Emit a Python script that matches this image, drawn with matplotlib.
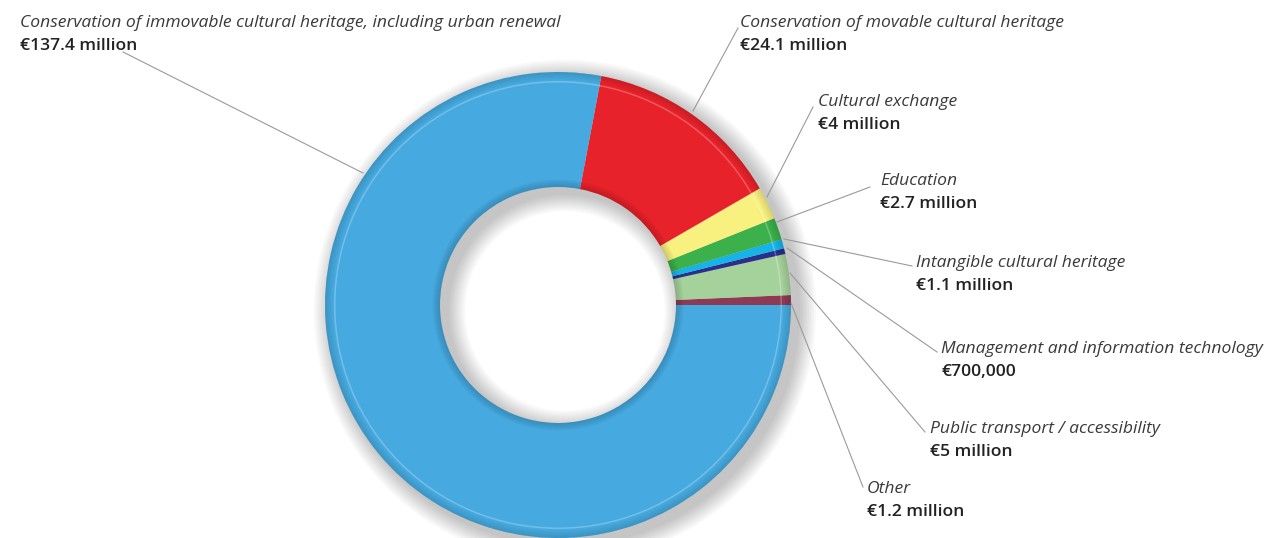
import matplotlib.pyplot as plt
from matplotlib.patches import Wedge

# Budget by field (million euro), drawn counter-clockwise from 3 o'clock
categories = ['Other', 'Public transport / accessibility',
              'Management and information technology',
              'Intangible cultural heritage', 'Education', 'Cultural exchange',
              'Conservation of movable cultural heritage',
              'Conservation of immovable cultural heritage, including urban renewal']
values = [1.2, 5.0, 0.7, 1.1, 2.7, 4.0, 24.1, 137.4]
value_labels = ['€1.2 million', '€5 million', '€700,000', '€1.1 million',
                '€2.7 million', '€4 million', '€24.1 million', '€137.4 million']
colors = ['#8e3a55', '#a5d19b', '#2b2f8c', '#16b3e8', '#3bb04b', '#f8f07f',
          '#e8222a', '#46a9df']

# label anchor (text left/centre of first line) and leader line end points, in pixels
label_pos = [(867, 489), (930, 429), (941, 349), (916, 263), (880, 181),
             (818, 102), (740, 23), (20, 23)]
line_start = [(863, 487), (925, 432), (937, 352), (912, 266), (870, 187),
              (813, 107), (738, 28), (123, 52)]
line_end = [(791, 303), (790, 273), (787, 248), (784, 239), (777, 222),
            (767, 197), (693, 111), (363, 173)]

cx, cy = 558, 305
r_out, r_in = 233, 118

fig = plt.figure(figsize=(12.78, 5.38), dpi=100)
ax = fig.add_axes([0, 0, 1, 1])

# soft drop shadow behind the ring
for i in range(10):
    ax.add_patch(Wedge((cx + 7, cy + 6), r_out + 2 + i * 1.8, 0, 360,
                       width=(r_out - r_in) + 4 + i * 3.6,
                       facecolor='black', edgecolor='none', alpha=0.025, zorder=1))

wedges, _ = ax.pie(values, colors=colors, radius=r_out, center=(cx, cy),
                   startangle=0, counterclock=False,
                   wedgeprops=dict(width=r_out - r_in, edgecolor='none', zorder=2))

# bevel shading on the rim (graded)
for i in range(5):
    ax.add_patch(Wedge((cx, cy), r_out, 0, 360, width=1.5 + i * 1.5,
                       facecolor='black', edgecolor='none', alpha=0.025, zorder=3))
    ax.add_patch(Wedge((cx, cy), r_in + 1.5 + i * 1.5, 0, 360, width=1.5 + i * 1.5,
                       facecolor='black', edgecolor='none', alpha=0.03, zorder=3))
ax.add_patch(Wedge((cx, cy), r_out - 9, 0, 360, width=1.5, facecolor='white',
                   edgecolor='none', alpha=0.25, zorder=3))

for name, val, (tx, ty), p0, p1 in zip(categories, value_labels, label_pos,
                                       line_start, line_end):
    ax.text(tx, ty, name, fontsize=12.6, style='italic', color='#3a3a3a',
            family='Open Sans', va='center', ha='left')
    ax.text(tx, ty + 23, val, fontsize=12.6, weight='semibold', color='#222222',
            family='Open Sans', va='center', ha='left')
    ax.plot([p0[0], p1[0]], [p0[1], p1[1]], color='#9a9a9a', lw=0.8, zorder=4)

ax.set_xlim(0, 1278)
ax.set_ylim(538, 0)
ax.set_aspect('equal')
ax.axis('off')

plt.savefig('out.png', dpi=100)
